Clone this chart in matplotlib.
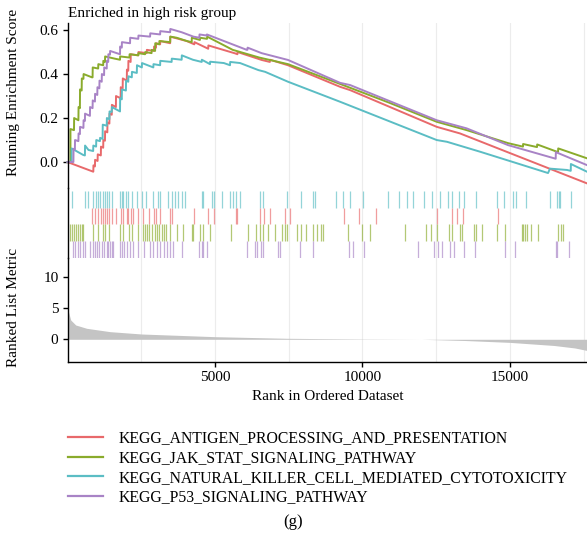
import numpy as np
import matplotlib
matplotlib.use('Agg')
import matplotlib.pyplot as plt
from matplotlib.lines import Line2D

plt.rcParams['font.family'] = ['Liberation Serif', 'DejaVu Serif']
plt.rcParams['font.size'] = 11

# pathway names (legend order) and colours
pathways = ['KEGG_ANTIGEN_PROCESSING_AND_PRESENTATION',
            'KEGG_JAK_STAT_SIGNALING_PATHWAY',
            'KEGG_NATURAL_KILLER_CELL_MEDIATED_CYTOTOXICITY',
            'KEGG_P53_SIGNALING_PATHWAY']
colors = ['#E8696B', '#8AAB2C', '#5BBDC4', '#A883C6']

n_genes = 17611

# running enrichment score as (rank, ES)
es_antigen = [(0, 0), (875, -0.044), (880, -0.015), (930, -0.02), (935, 0.01), (1020, 0.005),
              (1025, 0.035), (1130, 0.03), (1135, 0.07), (1210, 0.065), (1215, 0.10), (1270, 0.097),
              (1275, 0.14), (1350, 0.135), (1355, 0.18), (1420, 0.175), (1425, 0.22), (1500, 0.215),
              (1505, 0.26), (1640, 0.25), (1645, 0.30), (1800, 0.29), (1805, 0.34), (1870, 0.335),
              (1875, 0.38), (2010, 0.37), (2015, 0.42), (2060, 0.415), (2065, 0.46), (2140, 0.455),
              (2145, 0.49), (2400, 0.485), (2405, 0.50), (2685, 0.495), (2690, 0.51), (2930, 0.505),
              (2935, 0.525), (3000, 0.52), (3005, 0.54), (3140, 0.535), (3145, 0.55), (3480, 0.54),
              (3485, 0.57), (4040, 0.55), (4300, 0.535), (4305, 0.545), (4770, 0.515), (4775, 0.53),
              (5680, 0.494), (5760, 0.49), (5765, 0.50), (6583, 0.464), (6860, 0.455), (6865, 0.465),
              (7475, 0.44), (9240, 0.342), (9580, 0.327), (12516, 0.16), (13306, 0.13),
              (13533, 0.118), (14594, 0.062), (17611, -0.097)]
es_jakstat = [(0, 0), (100, 0), (100, 0.15), (220, 0.145), (225, 0.20), (370, 0.19), (375, 0.25),
              (420, 0.245), (425, 0.33), (480, 0.325), (485, 0.38), (540, 0.378), (545, 0.40),
              (830, 0.385), (850, 0.385), (855, 0.43), (1040, 0.425), (1045, 0.445), (1210, 0.44),
              (1215, 0.46), (1270, 0.455), (1275, 0.48), (1600, 0.47), (1780, 0.465), (1785, 0.48),
              (2100, 0.475), (2105, 0.49), (2400, 0.485), (2405, 0.495), (2630, 0.49), (2635, 0.50),
              (2850, 0.495), (2855, 0.51), (2970, 0.505), (2975, 0.54), (3110, 0.535), (3115, 0.55),
              (3480, 0.545), (3485, 0.57), (3700, 0.565), (4050, 0.55), (4210, 0.545), (4215, 0.565),
              (4490, 0.555), (4495, 0.565), (4730, 0.56), (4735, 0.57), (5600, 0.51), (6500, 0.475),
              (7475, 0.445), (9240, 0.355), (10900, 0.27), (12516, 0.183), (13533, 0.145),
              (14933, 0.086), (15440, 0.07), (15445, 0.082), (15917, 0.068), (15922, 0.08),
              (16630, 0.045), (16635, 0.062), (17611, 0.017)]
es_nk = [(0, 0), (140, 0), (140, 0.062), (535, 0.032), (590, 0.03), (595, 0.075), (710, 0.055),
         (870, 0.05), (875, 0.075), (970, 0.07), (975, 0.10), (1100, 0.095), (1105, 0.11),
         (1190, 0.105), (1195, 0.17), (1330, 0.165), (1335, 0.20), (1420, 0.195), (1425, 0.23),
         (1500, 0.228), (1505, 0.25), (1780, 0.23), (1785, 0.29), (1840, 0.285), (1845, 0.33),
         (1980, 0.325), (1985, 0.37), (2060, 0.365), (2065, 0.39), (2180, 0.385), (2185, 0.41),
         (2350, 0.405), (2355, 0.44), (2520, 0.43), (2525, 0.45), (2910, 0.43), (2915, 0.445),
         (3140, 0.44), (3145, 0.46), (3530, 0.455), (3535, 0.47), (3870, 0.465), (3875, 0.485),
         (4250, 0.465), (4550, 0.455), (4555, 0.465), (4830, 0.445), (4835, 0.456), (5300, 0.45),
         (5510, 0.44), (5515, 0.455), (5850, 0.45), (6470, 0.418), (6700, 0.41), (7475, 0.365),
         (9240, 0.274), (9580, 0.256), (12516, 0.10), (12865, 0.092), (13984, 0.047),
         (15103, 0.0), (16290, -0.05), (16357, -0.03), (16933, -0.036), (17060, -0.04),
         (17065, -0.009), (17611, -0.044)]
es_p53 = [(0, 0), (200, 0), (205, 0.06), (250, 0.057), (255, 0.10), (370, 0.095), (375, 0.13),
          (420, 0.127), (425, 0.16), (540, 0.155), (545, 0.19), (590, 0.187), (595, 0.22),
          (760, 0.21), (765, 0.25), (850, 0.245), (855, 0.28), (930, 0.275), (935, 0.31),
          (1010, 0.305), (1015, 0.34), (1080, 0.335), (1085, 0.37), (1160, 0.365), (1165, 0.40),
          (1240, 0.395), (1245, 0.43), (1330, 0.425), (1335, 0.46), (1380, 0.455), (1385, 0.49),
          (1440, 0.488), (1445, 0.505), (1780, 0.49), (1785, 0.525), (1840, 0.52), (1845, 0.545),
          (2120, 0.54), (2125, 0.565), (2400, 0.56), (2405, 0.575), (2800, 0.57), (2805, 0.585),
          (3140, 0.58), (3145, 0.595), (3480, 0.59), (3485, 0.605), (3870, 0.59), (4270, 0.57),
          (4470, 0.565), (4475, 0.58), (4720, 0.575), (4725, 0.58), (6075, 0.51), (6100, 0.51),
          (6105, 0.52), (6580, 0.495), (7475, 0.464), (9240, 0.36), (9580, 0.35), (12516, 0.19),
          (13533, 0.153), (14933, 0.077), (16550, 0.015), (16555, 0.045), (17611, -0.014)]

# gene set hit positions (ranks)
hits_antigen = [840, 930, 1020, 1130, 1210, 1270, 1350, 1420, 1500, 1640, 1800, 1870, 2010, 2060,
                2140, 2230, 2400, 2570, 2770, 2930, 3000, 3140, 3480, 3530, 4300, 4770, 4950,
                5710, 5760, 6510, 6660, 6860, 7370, 7530, 9380, 9890, 10460, 12520, 13030, 13190,
                13420, 14600]
hits_jakstat = [80, 140, 220, 290, 370, 420, 480, 540, 850, 1040, 1210, 1270, 1420, 1780, 1890,
                2100, 2180, 2400, 2570, 2630, 2710, 2770, 2850, 2970, 3020, 3110, 3190, 3270,
                3340, 3480, 3700, 3930, 4210, 4260, 4490, 4600, 4830, 5530, 6130, 6390, 6530,
                6620, 6810, 7030, 7260, 7370, 7450, 7770, 7910, 8080, 8310, 8450, 8580, 8670,
                9520, 9980, 10260, 11440, 12150, 12320, 12540, 12940, 13030, 13290, 13390, 13790,
                13860, 14040, 14550, 14830, 15400, 15450, 15510, 15570, 15700, 15940, 16640,
                16730, 16790]
hits_nk = [140, 590, 710, 870, 970, 1040, 1100, 1190, 1270, 1330, 1420, 1500, 1780, 1840, 1890,
           1980, 2060, 2180, 2350, 2520, 2660, 2910, 3080, 3140, 3420, 3530, 3640, 3760, 3870,
           3980, 4550, 4600, 4890, 4970, 5230, 5510, 5620, 5710, 5850, 6530, 6640, 7440, 7910,
           8330, 8390, 9090, 9350, 9580, 10010, 10870, 11250, 11500, 11720, 12090, 12360, 12640,
           12890, 13030, 13280, 13450, 13850, 14550, 14790, 15090, 15200, 15540, 16360, 16600,
           16660, 16700, 17060]
hits_p53 = [200, 250, 370, 420, 540, 590, 760, 850, 930, 1010, 1080, 1160, 1240, 1330, 1380,
            1440, 1500, 1550, 1780, 1840, 1920, 2010, 2120, 2210, 2400, 2590, 2800, 2890, 3020,
            3140, 3270, 3380, 3480, 3570, 3870, 4470, 4550, 4600, 4720, 6100, 6360, 6410, 6550,
            6640, 7150, 7210, 7870, 8310, 9530, 9670, 10050, 11870, 12420, 12550, 12690, 12970,
            13100, 13430, 13810, 14830, 15170, 16550, 16600, 17010]

# ranked list metric (rank, value)
metric_rank = [0, 110, 280, 650, 1440, 2520, 5000, 7430, 10000, 12000, 13500, 15000, 16500, 17200, 17611]
metric_value = [5.0, 3.1, 2.3, 1.77, 1.23, 0.85, 0.42, 0.16, 0.05, 0.0, -0.2, -0.5, -1.0, -1.4, -1.8]

es_curves = [es_antigen, es_jakstat, es_nk, es_p53]
hit_sets = [hits_antigen, hits_jakstat, hits_nk, hits_p53]
rug_order = [2, 0, 1, 3]   # top to bottom in the rug panel

W, H = 587, 544
fig = plt.figure(figsize=(W / 100, H / 100), dpi=100)


def frac(top_px, bottom_px):
    return [67.5 / W, 1 - bottom_px / H, 1 - 67.5 / W, (bottom_px - top_px) / H]


ax1 = fig.add_axes(frac(23, 188))
ax2 = fig.add_axes(frac(188, 258))
ax3 = fig.add_axes(frac(258, 362))

grid_x = np.arange(2500, n_genes, 2500)
for ax in (ax1, ax2, ax3):
    ax.set_xlim(0, n_genes)
    for g in grid_x:
        ax.axvline(g, color='#ececec', lw=0.8, zorder=0)
    for s in ('top', 'right', 'bottom'):
        ax.spines[s].set_visible(False)
    ax.spines['left'].set_linewidth(1.0)
    ax.set_facecolor('none')

# top: running ES
for curve, c in zip(es_curves, colors):
    xs = [p[0] for p in curve]
    ys = [p[1] for p in curve]
    ax1.plot(xs, ys, color=c, lw=1.4, clip_on=False)
ax1.set_ylim(-0.118, 0.632)
ax1.set_yticks([0.0, 0.2, 0.4, 0.6])
ax1.set_yticklabels(['0.0', '0.2', '0.4', '0.6'])
ax1.set_xticks([])
ax1.tick_params(axis='y', length=3.5, width=1.0, pad=3)
ax1.set_ylabel('Running Enrichment Score')
ax1.yaxis.set_label_coords(-0.092, 0.58)

# middle: hit rugs
for row, idx in enumerate(rug_order):
    ax2.vlines(hit_sets[idx], row, row + 1, color=colors[idx], lw=0.9, alpha=0.65)
ax2.set_ylim(4.03, -0.21)
ax2.set_xticks([])
ax2.set_yticks([])

# bottom: ranked list metric
ax3.fill_between(metric_rank, 0, metric_value, color='#c4c4c4', lw=0)
ax3.set_ylim(-3.66, 13.1)
ax3.set_yticks([0, 5, 10])
ax3.set_xticks([5000, 10000, 15000])
ax3.spines['bottom'].set_visible(True)
ax3.spines['bottom'].set_linewidth(1.0)
ax3.tick_params(axis='both', length=3.5, width=1.0, pad=3)
ax3.set_ylabel('Ranked List Metric')
ax3.yaxis.set_label_coords(-0.092, 0.52)
ax3.set_xlabel('Rank in Ordered Dataset', labelpad=4)

fig.text(68 / W, 1 - 13 / H, 'Enriched in high risk group', ha='left', va='center')

handles = [Line2D([], [], color=c, lw=1.6) for c in colors]
fig.legend(handles, pathways, loc='upper left', bbox_to_anchor=(62 / W, 1 - 424 / H),
           frameon=False, handlelength=2.2, handletextpad=1.0, labelspacing=0.24,
           fontsize=11.3, borderaxespad=0)

fig.text(0.5, 1 - 522 / H, '(g)', ha='center', va='center', fontsize=12)

fig.savefig('out.png', dpi=100)
